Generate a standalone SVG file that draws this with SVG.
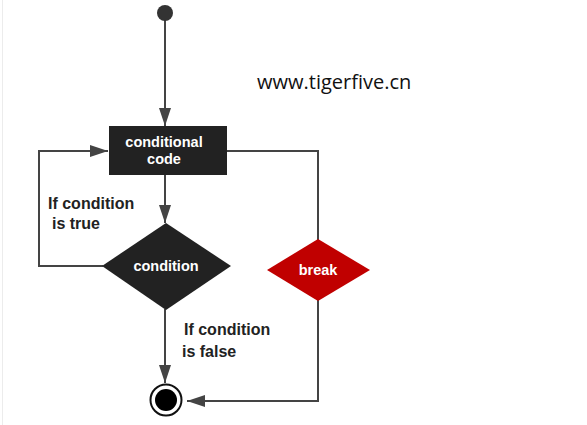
<svg xmlns="http://www.w3.org/2000/svg" width="587" height="425" viewBox="0 0 587 425">
<defs>
<style>
.ln{fill:none;stroke:#444;stroke-width:2}
.nt{font-family:"Liberation Sans",Arial,sans-serif;font-weight:bold;font-size:14.5px;fill:#fff;text-anchor:middle}
.lb{font-family:"Liberation Sans",Arial,sans-serif;font-weight:bold;font-size:16px;fill:#222}
</style>
<marker id="ahb" viewBox="0 0 18 12" refX="18" refY="6" markerWidth="18" markerHeight="12" markerUnits="userSpaceOnUse" orient="auto">
<path d="M0,0 L18,6 L0,12 Z" fill="#444"/>
</marker>
</defs>
<rect width="587" height="425" fill="#fff"/>
<line x1="2.5" y1="0" x2="2.5" y2="425" stroke="#ececec" stroke-width="1"/>
<g id="connectors">
<line class="ln" x1="165" y1="20" x2="165" y2="126" marker-end="url(#ahb)"/>
<polyline class="ln" points="103,266 39,266 39,151 108,151" marker-end="url(#ahb)"/>
<polyline class="ln" points="227,151 318,151 318,240"/>
<line class="ln" x1="165" y1="175" x2="165" y2="223" marker-end="url(#ahb)"/>
<line class="ln" x1="165" y1="309" x2="165" y2="383" marker-end="url(#ahb)"/>
<polyline class="ln" points="318,300 318,401 187,401" marker-end="url(#ahb)"/>
</g>
<g id="start"><circle cx="165" cy="13" r="8" fill="#333"/></g>
<g id="code">
<rect x="109" y="126" width="118" height="49" fill="#222"/>
<text class="nt" x="164" y="147">conditional</text>
<text class="nt" x="164" y="164">code</text>
</g>
<g id="condition">
<polygon points="166,223 231,266 166,310 102,266" fill="#222"/>
<text class="nt" x="166" y="271">condition</text>
</g>
<g id="break">
<polygon points="318,239 370,270 318,301 267,270" fill="#c00000"/>
<text class="nt" x="318" y="275">break</text>
</g>
<g id="end">
<circle cx="166" cy="400" r="15.5" fill="#fff" stroke="#111" stroke-width="2"/>
<circle cx="166" cy="400" r="11" fill="#000"/>
</g>
<g id="labels">
<text class="lb" x="48" y="209">If condition</text>
<text class="lb" x="52" y="229">is true</text>
<text class="lb" x="184" y="335">If condition</text>
<text class="lb" x="182" y="357">is false</text>
<text x="257" y="89" font-family="'Open Sans','Noto Sans',sans-serif" font-size="20" fill="#111">www.tigerfive.cn</text>
</g>
</svg>
